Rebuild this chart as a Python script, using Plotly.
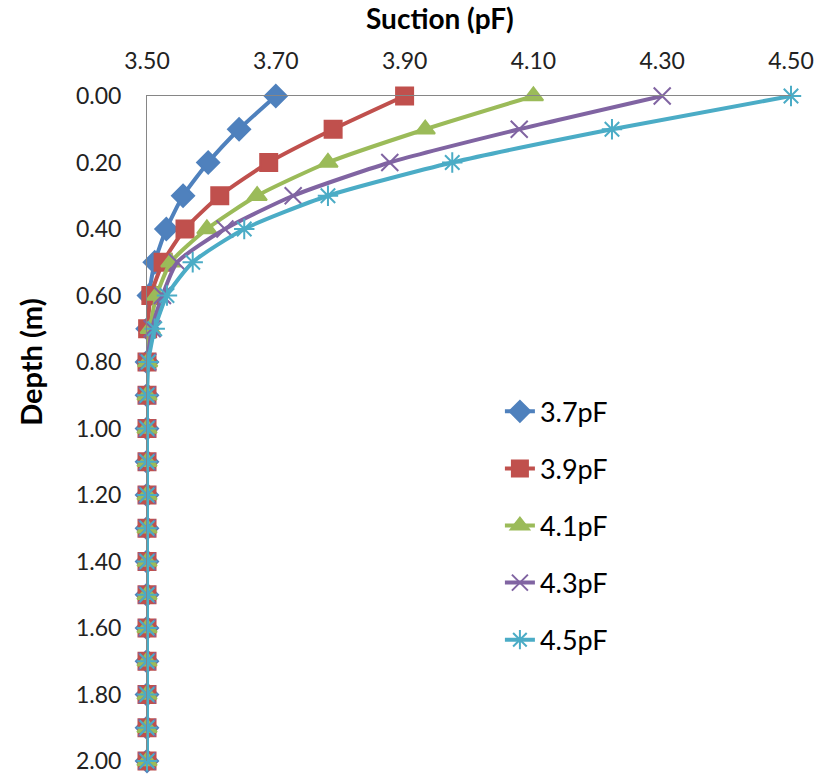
import plotly.graph_objects as go

depth = [0.0, 0.1, 0.2, 0.3, 0.4, 0.5, 0.6, 0.7, 0.8, 0.9, 1.0,
         1.1, 1.2, 1.3, 1.4, 1.5, 1.6, 1.7, 1.8, 1.9, 2.0]

s_37 = [3.700, 3.643, 3.595, 3.556, 3.530, 3.512, 3.503, 3.501, 3.500, 3.500, 3.500,
        3.500, 3.500, 3.500, 3.500, 3.500, 3.500, 3.500, 3.500, 3.500, 3.500]
s_39 = [3.900, 3.789, 3.689, 3.613, 3.559, 3.525, 3.506, 3.501, 3.500, 3.500, 3.500,
        3.500, 3.500, 3.500, 3.500, 3.500, 3.500, 3.500, 3.500, 3.500, 3.500]
s_41 = [4.100, 3.932, 3.781, 3.671, 3.593, 3.537, 3.515, 3.505, 3.501, 3.500, 3.500,
        3.500, 3.500, 3.500, 3.500, 3.500, 3.500, 3.500, 3.500, 3.500, 3.500]
s_43 = [4.300, 4.078, 3.877, 3.727, 3.621, 3.547, 3.524, 3.508, 3.501, 3.500, 3.500,
        3.500, 3.500, 3.500, 3.500, 3.500, 3.500, 3.500, 3.500, 3.500, 3.500]
s_45 = [4.500, 4.222, 3.974, 3.781, 3.651, 3.571, 3.531, 3.512, 3.502, 3.500, 3.500,
        3.500, 3.500, 3.500, 3.500, 3.500, 3.500, 3.500, 3.500, 3.500, 3.500]

names = ["3.7pF", "3.9pF", "4.1pF", "4.3pF", "4.5pF"]
series = [s_37, s_39, s_41, s_43, s_45]
colors = ["#4F81BD", "#C0504D", "#9BBB59", "#8064A2", "#4BACC6"]
symbols = ["diamond", "square", "triangle-up", "x-thin-open", "asterisk-open"]
sizes = [17, 17, 17, 17, 17]

x_ticks = [3.5, 3.7, 3.9, 4.1, 4.3, 4.5]
y_ticks = [0.0, 0.2, 0.4, 0.6, 0.8, 1.0, 1.2, 1.4, 1.6, 1.8, 2.0]

FONT = "Lato"

fig = go.Figure()
for i, (nm, vals) in enumerate(zip(names, series)):
    fig.add_trace(go.Scatter(
        x=vals, y=depth, name=nm, mode="lines+markers",
        line=dict(color=colors[i], width=4, shape="spline", smoothing=0.6),
        marker=dict(symbol=symbols[i], size=sizes[i], color=colors[i],
                    line=dict(color=colors[i], width=2)),
        cliponaxis=False, legendgroup=nm,
    ))

fig.update_layout(
    width=822, height=778,
    margin=dict(l=147, r=31, t=96, b=17),
    paper_bgcolor="white", plot_bgcolor="white",
    font=dict(family=FONT, size=20, color="#000000"),
    showlegend=True,
    legend=dict(x=0.548, y=0.562, xanchor="left", yanchor="top",
                font=dict(family=FONT, size=27, color="#000000"),
                tracegroupgap=19, bgcolor="rgba(0,0,0,0)"),
    xaxis=dict(range=[3.5, 4.5], side="top", tickvals=x_ticks,
               ticktext=[f"{v:.2f}" for v in x_ticks],
               showgrid=False, zeroline=False, showline=True,
               linecolor="#868686", linewidth=1, automargin=False,
               ticks="outside", ticklen=17, tickcolor="rgba(0,0,0,0)",
               tickfont=dict(family=FONT, size=23, color="#222222")),
    yaxis=dict(range=[2.0, 0.0], tickvals=y_ticks,
               ticktext=[f"{v:.2f}" for v in y_ticks],
               showgrid=False, zeroline=False, showline=True,
               linecolor="#868686", linewidth=1, automargin=False,
               ticks="outside", ticklen=20, tickcolor="rgba(0,0,0,0)",
               tickfont=dict(family=FONT, size=23, color="#222222")),
    annotations=[
        dict(text="<b>Suction (pF)</b>", xref="paper", yref="paper",
             x=0.455, y=1.117, showarrow=False,
             xanchor="center", yanchor="middle",
             font=dict(family=FONT, size=28, color="#000000")),
        dict(text="<b>Depth (m)</b>", xref="paper", yref="paper",
             x=-0.182, y=0.6, textangle=-90, showarrow=False,
             xanchor="center", yanchor="middle",
             font=dict(family=FONT, size=29, color="#000000")),
    ],
)

fig.write_html("out.html",
               config={"displayModeBar": False},
               post_script="document.body.style.margin='0';document.body.style.padding='0';")
